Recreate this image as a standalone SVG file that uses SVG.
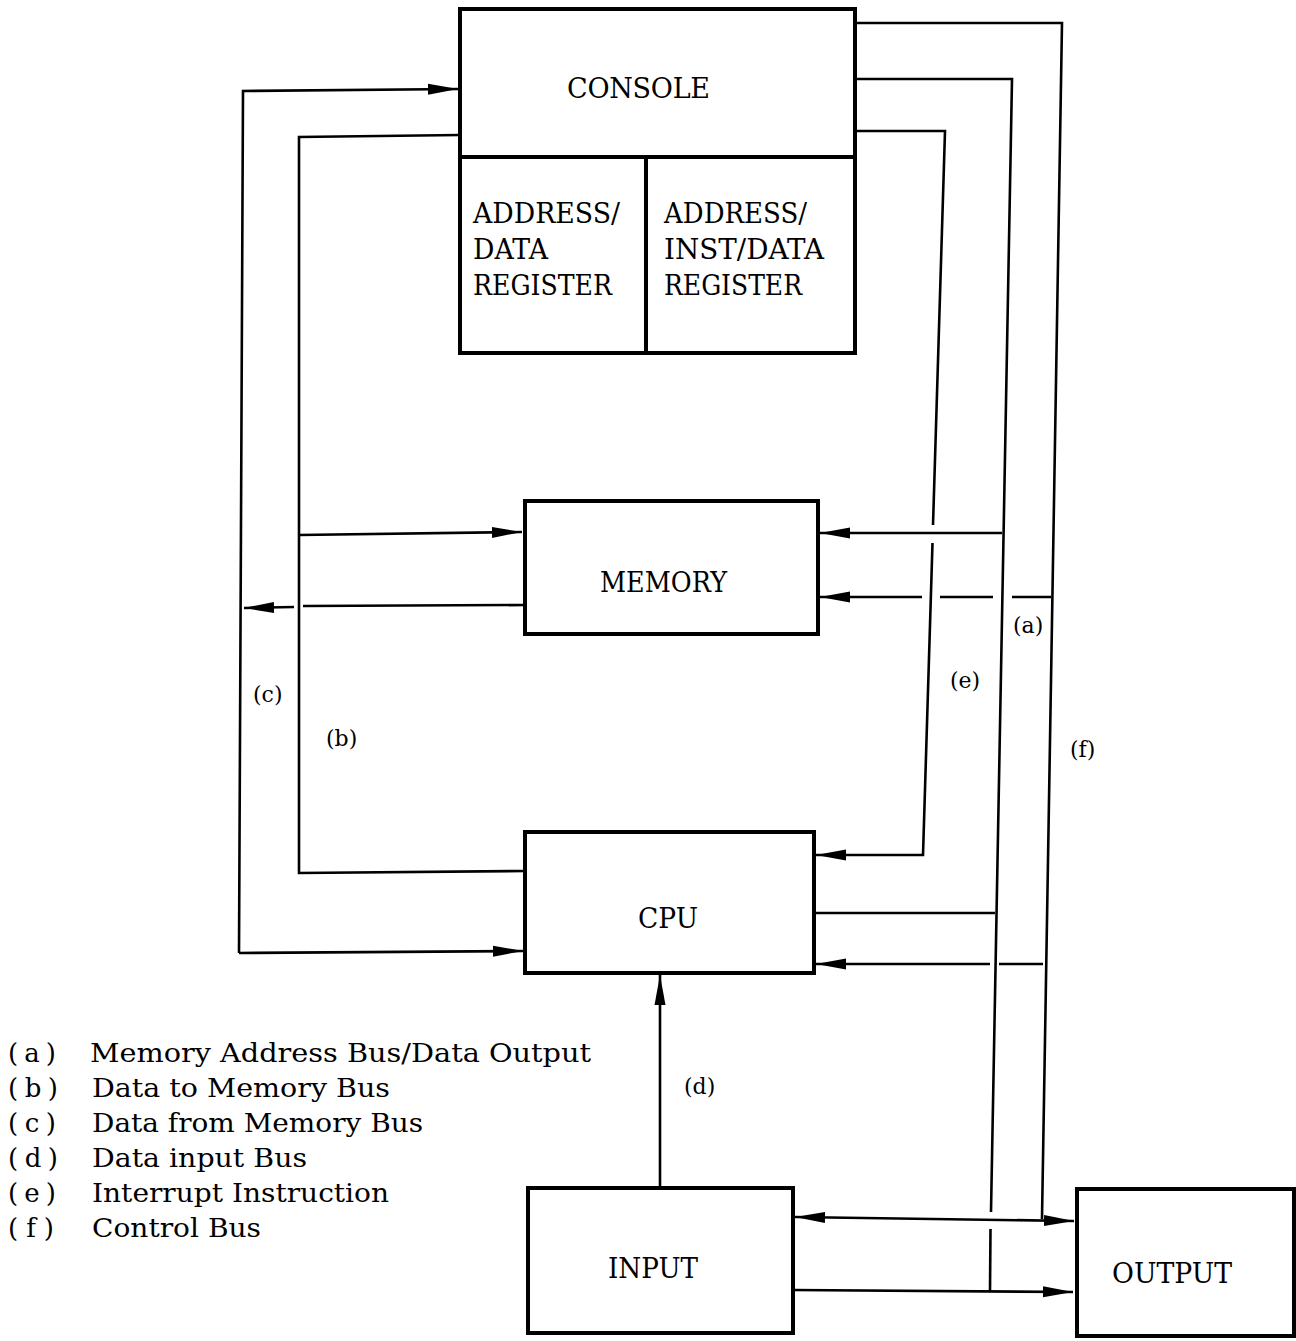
<svg xmlns="http://www.w3.org/2000/svg" width="1296" height="1341" viewBox="0 0 1296 1341">
<style>
.box{fill:#fff;stroke:#000;stroke-width:4}
.div{stroke:#000;stroke-width:4;fill:none}
.ln{stroke:#000;stroke-width:2.6;fill:none}
.t{font-family:"DejaVu Serif","Liberation Serif",serif;font-size:27px;fill:#000}
.lg{font-family:"DejaVu Serif","Liberation Serif",serif;font-size:26px;fill:#000}
.lb{font-family:"DejaVu Serif","Liberation Serif",serif;font-size:22px;fill:#000}
</style>
<defs>
<marker id="ah" markerWidth="32" markerHeight="14" refX="30" refY="7" orient="auto-start-reverse" markerUnits="userSpaceOnUse">
<path d="M0,1.5 L30,7 L0,12.5 z" fill="#000"/>
</marker>
</defs>
<rect width="1296" height="1341" fill="#fff"/>

<g id="connectors">
<!-- (c) data from memory bus -->
<path class="ln" d="M239,953 L243,91 L458,89" marker-end="url(#ah)"/>
<path class="ln" d="M239,953 L523,951" marker-end="url(#ah)"/>
<path class="ln" d="M525,605 L303,606"/>
<path class="ln" d="M294,607 L244,608" marker-end="url(#ah)"/>
<!-- (b) data to memory bus -->
<path class="ln" d="M460,135 L299,137 L299,873 L525,871"/>
<path class="ln" d="M299,535 L522,532" marker-end="url(#ah)"/>
<!-- (e) interrupt instruction -->
<path class="ln" d="M857,131 L945,131 L933,525"/>
<path class="ln" d="M932.5,543 L923,855 L816,855" marker-end="url(#ah)"/>
<!-- (a) memory address bus -->
<path class="ln" d="M857,79 L1012,79 L991,1212"/>
<path class="ln" d="M990.5,1229 L990,1291"/>
<path class="ln" d="M1002,533 L820,533" marker-end="url(#ah)"/>
<path class="ln" d="M815,913 L995,913"/>
<!-- (f) control bus -->
<path class="ln" d="M857,23 L1062,23 L1042,1219"/>
<path class="ln" d="M1051,597 L1012,597"/>
<path class="ln" d="M993,597 L940,597"/>
<path class="ln" d="M922,597 L820,597" marker-end="url(#ah)"/>
<path class="ln" d="M1043,964 L999,964"/>
<path class="ln" d="M990,964 L816,964" marker-end="url(#ah)"/>
<!-- input/output -->
<path class="ln" d="M795,1217 L1074,1221" marker-start="url(#ah)" marker-end="url(#ah)"/>
<path class="ln" d="M792,1290 L1073,1292" marker-end="url(#ah)"/>
<!-- (d) data input bus -->
<path class="ln" d="M660,1188 L660,975" marker-end="url(#ah)"/>
</g>

<g id="console">
<rect class="box" x="460" y="9" width="395" height="344"/>
<path class="div" d="M460,157 L855,157 M646,157 L646,353"/>
<text class="t" x="567" y="98" textLength="143" lengthAdjust="spacing">CONSOLE</text>
</g>
<g id="addr-data-reg">
<text class="t" x="473" y="223" textLength="147" lengthAdjust="spacingAndGlyphs">ADDRESS/</text>
<text class="t" x="473" y="259" textLength="75" lengthAdjust="spacingAndGlyphs">DATA</text>
<text class="t" x="473" y="295" textLength="139" lengthAdjust="spacingAndGlyphs">REGISTER</text>
</g>
<g id="addr-inst-data-reg">
<text class="t" x="664" y="223" textLength="143" lengthAdjust="spacingAndGlyphs">ADDRESS/</text>
<text class="t" x="664" y="259" textLength="160" lengthAdjust="spacingAndGlyphs">INST/DATA</text>
<text class="t" x="664" y="295" textLength="138" lengthAdjust="spacingAndGlyphs">REGISTER</text>
</g>
<g id="memory">
<rect class="box" x="525" y="501" width="293" height="133"/>
<text class="t" x="600" y="592" textLength="127" lengthAdjust="spacingAndGlyphs">MEMORY</text>
</g>
<g id="cpu">
<rect class="box" x="525" y="832" width="289" height="141"/>
<text class="t" x="638" y="928" textLength="60" lengthAdjust="spacingAndGlyphs">CPU</text>
</g>
<g id="input">
<rect class="box" x="528" y="1188" width="265" height="145"/>
<text class="t" x="608" y="1278" textLength="90" lengthAdjust="spacingAndGlyphs">INPUT</text>
</g>
<g id="output">
<rect class="box" x="1077" y="1189" width="217" height="147"/>
<text class="t" x="1112" y="1283" textLength="120" lengthAdjust="spacingAndGlyphs">OUTPUT</text>
</g>

<g id="bus-labels">
<text class="lb" x="1013" y="633">(a)</text>
<text class="lb" x="950" y="688">(e)</text>
<text class="lb" x="1070" y="757">(f)</text>
<text class="lb" x="253" y="702">(c)</text>
<text class="lb" x="326" y="746">(b)</text>
<text class="lb" x="684" y="1094">(d)</text>
</g>

<g id="legend">
<text class="lg" x="8" y="1062" textLength="48" lengthAdjust="spacing">(a)</text>
<text class="lg" x="90" y="1062" textLength="501" lengthAdjust="spacingAndGlyphs">Memory Address Bus/Data Output</text>
<text class="lg" x="8" y="1097" textLength="50" lengthAdjust="spacing">(b)</text>
<text class="lg" x="92" y="1097" textLength="298" lengthAdjust="spacingAndGlyphs">Data to Memory Bus</text>
<text class="lg" x="8" y="1132" textLength="48" lengthAdjust="spacing">(c)</text>
<text class="lg" x="92" y="1132" textLength="331" lengthAdjust="spacingAndGlyphs">Data from Memory Bus</text>
<text class="lg" x="8" y="1167" textLength="50" lengthAdjust="spacing">(d)</text>
<text class="lg" x="92" y="1167" textLength="215" lengthAdjust="spacingAndGlyphs">Data input Bus</text>
<text class="lg" x="8" y="1202" textLength="48" lengthAdjust="spacing">(e)</text>
<text class="lg" x="92" y="1202" textLength="297" lengthAdjust="spacingAndGlyphs">Interrupt Instruction</text>
<text class="lg" x="8" y="1237" textLength="46" lengthAdjust="spacing">(f)</text>
<text class="lg" x="92" y="1237" textLength="169" lengthAdjust="spacingAndGlyphs">Control Bus</text>
</g>
</svg>
